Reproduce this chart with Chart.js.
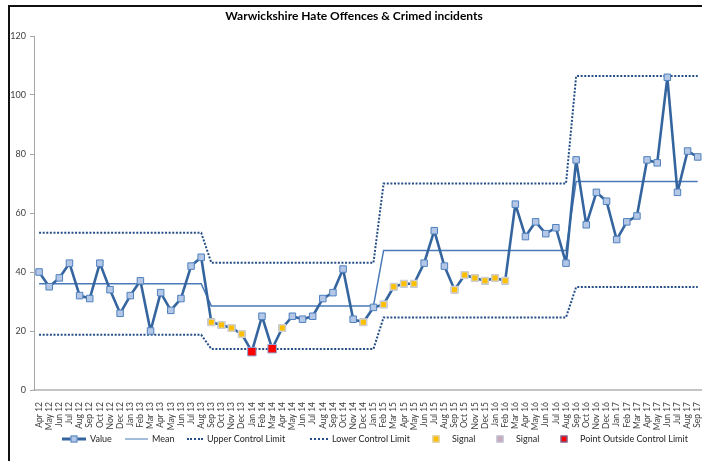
<!DOCTYPE html>
<html>
<head>
<meta charset="utf-8">
<script src="https://cdn.jsdelivr.net/npm/chart.js@4.4.1/dist/chart.umd.min.js"></script>
<style>
  html, body { margin: 0; padding: 0; background: #fff; overflow: hidden; }
  body { width: 702px; height: 461px; position: relative; font-family: Lato, 'Liberation Sans', sans-serif; }
  .frame { position: absolute; left: 8px; top: 5px; width: 720px; height: 480px; border-top: 2px solid #111; border-left: 2px solid #111; }
  .title { position: absolute; top: 8px; left: 0; width: 708px; text-align: center; font-weight: 700; font-size: 12px; color: #000; }
  #wrap { position: absolute; left: 0; top: 0; width: 712px; height: 430px; }
  .legend { position: absolute; top: 432px; left: 0; width: 702px; height: 14px; font-size: 9px; color: #262626; }
  .legend .item { position: absolute; top: 0; height: 14px; line-height: 14px; white-space: nowrap; display: flex; align-items: center; }
  .sw { position: relative; display: inline-block; height: 14px; margin-right: 4px; }
  .sw.line::before { content: ''; position: absolute; left: 0; right: 0; top: 50%; border-top: 3px solid #35659f; transform: translateY(-50%); }
  .sw.line.thin::before { border-top: 1.5px solid #4a7ab8; }
  .sw.dots::before { content: ''; position: absolute; left: 0; right: 0; top: 6px; border-top: 2px dotted #254e86; }
  .sw .mk { position: absolute; left: 50%; top: 50%; width: 5px; height: 5px; transform: translate(-50%, -50%); border: 1px solid #4f81bd; background: #b4c7e7; }
</style>
</head>
<body>
<div id="wrap"><canvas id="c"></canvas></div>
<div class="frame"></div>
<div class="title">Warwickshire Hate Offences &amp; Crimed incidents</div>
<div class="legend">
  <span class="item" style="left:62px"><i class="sw line" style="width:24px"><b class="mk"></b></i>Value</span>
  <span class="item" style="left:125px"><i class="sw line thin" style="width:23px"></i>Mean</span>
  <span class="item" style="left:187px"><i class="sw dots" style="width:16px"></i>Upper Control Limit</span>
  <span class="item" style="left:310px"><i class="sw dots" style="width:18px"></i>Lower Control Limit</span>
  <span class="item" style="left:424px"><i class="sw" style="width:24px"><b class="mk" style="background:#ffc000;border-color:#d0d0d0"></b></i>Signal</span>
  <span class="item" style="left:488px"><i class="sw" style="width:24px"><b class="mk" style="background:#c9a9b9;border-color:#b9c6dc"></b></i>Signal</span>
  <span class="item" style="left:552px"><i class="sw" style="width:24px"><b class="mk" style="background:#ff0000;border-color:#4f81bd"></b></i>Point Outside Control Limit</span>
</div>
<script>
// months Apr 12 .. Sep 17
const months = [
  'Apr 12','May 12','Jun 12','Jul 12','Aug 12','Sep 12','Oct 12','Nov 12','Dec 12',
  'Jan 13','Feb 13','Mar 13','Apr 13','May 13','Jun 13','Jul 13','Aug 13','Sep 13','Oct 13','Nov 13','Dec 13',
  'Jan 14','Feb 14','Mar 14','Apr 14','May 14','Jun 14','Jul 14','Aug 14','Sep 14','Oct 14','Nov 14','Dec 14',
  'Jan 15','Feb 15','Mar 15','Apr 15','May 15','Jun 15','Jul 15','Aug 15','Sep 15','Oct 15','Nov 15','Dec 15',
  'Jan 16','Feb 16','Mar 16','Apr 16','May 16','Jun 16','Jul 16','Aug 16','Sep 16','Oct 16','Nov 16','Dec 16',
  'Jan 17','Feb 17','Mar 17','Apr 17','May 17','Jun 17','Jul 17','Aug 17','Sep 17'
];

const values = [
  40, 35, 38, 43, 32, 31, 43, 34, 26,
  32, 37, 20, 33, 27, 31, 42, 45, 23, 22, 21, 19,
  13, 25, 14, 21, 25, 24, 25, 31, 33, 41, 24, 23,
  28, 29, 35, 36, 36, 43, 54, 42, 34, 39, 38, 37,
  38, 37, 63, 52, 57, 53, 55, 43, 78, 56, 67, 64,
  51, 57, 59, 78, 77, 106, 67, 81, 79
];

const mean = [
  36, 36, 36, 36, 36, 36, 36, 36, 36,
  36, 36, 36, 36, 36, 36, 36, 36, 28.5, 28.5, 28.5, 28.5,
  28.5, 28.5, 28.5, 28.5, 28.5, 28.5, 28.5, 28.5, 28.5, 28.5, 28.5, 28.5,
  28.5, 47.3, 47.3, 47.3, 47.3, 47.3, 47.3, 47.3, 47.3, 47.3, 47.3, 47.3,
  47.3, 47.3, 47.3, 47.3, 47.3, 47.3, 47.3, 47.3, 70.7, 70.7, 70.7, 70.7,
  70.7, 70.7, 70.7, 70.7, 70.7, 70.7, 70.7, 70.7, 70.7
];

const upperLimit = [
  53.3, 53.3, 53.3, 53.3, 53.3, 53.3, 53.3, 53.3, 53.3,
  53.3, 53.3, 53.3, 53.3, 53.3, 53.3, 53.3, 53.3, 43.1, 43.1, 43.1, 43.1,
  43.1, 43.1, 43.1, 43.1, 43.1, 43.1, 43.1, 43.1, 43.1, 43.1, 43.1, 43.1,
  43.1, 70, 70, 70, 70, 70, 70, 70, 70, 70, 70, 70,
  70, 70, 70, 70, 70, 70, 70, 70, 106.4, 106.4, 106.4, 106.4,
  106.4, 106.4, 106.4, 106.4, 106.4, 106.4, 106.4, 106.4, 106.4
];

const lowerLimit = [
  18.7, 18.7, 18.7, 18.7, 18.7, 18.7, 18.7, 18.7, 18.7,
  18.7, 18.7, 18.7, 18.7, 18.7, 18.7, 18.7, 18.7, 13.9, 13.9, 13.9, 13.9,
  13.9, 13.9, 13.9, 13.9, 13.9, 13.9, 13.9, 13.9, 13.9, 13.9, 13.9, 13.9,
  13.9, 24.6, 24.6, 24.6, 24.6, 24.6, 24.6, 24.6, 24.6, 24.6, 24.6, 24.6,
  24.6, 24.6, 24.6, 24.6, 24.6, 24.6, 24.6, 24.6, 34.9, 34.9, 34.9, 34.9,
  34.9, 34.9, 34.9, 34.9, 34.9, 34.9, 34.9, 34.9, 34.9
];

// months flagged in the chart
const signalMonths = ['Sep 13','Oct 13','Nov 13','Dec 13','Apr 14','Dec 14','Feb 15','Mar 15','Apr 15','May 15',
  'Sep 15','Oct 15','Nov 15','Dec 15','Jan 16','Feb 16'];
const outsideMonths = ['Jan 14', 'Mar 14'];

const yTicks = [0, 20, 40, 60, 80, 100, 120];

const pick = list => months.map((m, i) => list.includes(m) ? values[i] : null);

new Chart(document.getElementById('c'), {
  type: 'line',
  data: {
    labels: months,
    datasets: [
      {
        label: 'Point Outside Control Limit', data: pick(outsideMonths), showLine: false, order: 0,
        pointStyle: 'rect', pointRadius: 6, pointBackgroundColor: '#ff0000', pointBorderColor: '#8ea9d6', pointBorderWidth: 1
      },
      {
        label: 'Signal', data: pick(signalMonths), showLine: false, order: 1,
        pointStyle: 'rect', pointRadius: 4.6, pointBackgroundColor: '#ffc000', pointBorderColor: '#cfcfcf', pointBorderWidth: 1.5
      },
      {
        label: 'Value', data: values, order: 2, borderColor: '#35659f', borderWidth: 2.6, borderJoinStyle: 'round',
        pointStyle: 'rect', pointRadius: 4.6, pointBackgroundColor: '#b4c7e7', pointBorderColor: '#4f81bd', pointBorderWidth: 1
      },
      { label: 'Mean', data: mean, order: 3, borderColor: '#4a7ab8', borderWidth: 1.5, pointRadius: 0 },
      { label: 'Upper Control Limit', data: upperLimit, order: 4, borderColor: '#254e86', borderWidth: 2, borderDash: [2, 1.6], pointRadius: 0 },
      { label: 'Lower Control Limit', data: lowerLimit, order: 5, borderColor: '#254e86', borderWidth: 2, borderDash: [2, 1.6], pointRadius: 0 }
    ]
  },
  options: {
    responsive: true,
    maintainAspectRatio: false,
    animation: false,
    layout: { padding: { top: 36, right: 9, left: 0, bottom: 0 } },
    elements: { line: { tension: 0, fill: false } },
    plugins: { legend: { display: false }, tooltip: { enabled: false } },
    scales: {
      x: {
        offset: true,
        grid: { display: false },
        border: { display: true, color: '#c4c4c4', width: 2 },
        ticks: { autoSkip: false, minRotation: 90, maxRotation: 90, padding: 4, color: '#404040', font: { family: 'Lato', size: 8.5 } },
        afterFit: s => { s.height = 40; }
      },
      y: {
        min: 0, max: 120,
        grid: { drawOnChartArea: false, drawTicks: true, tickLength: 4, color: '#a6a6a6' },
        border: { display: true, color: '#a6a6a6', width: 1 },
        ticks: { padding: 4, color: '#404040', font: { family: 'Lato', size: 9 } },
        afterBuildTicks: s => { s.ticks = yTicks.map(v => ({ value: v })); },
        afterFit: s => { s.width = 34; }
      }
    }
  }
});
</script>
</body>
</html>
